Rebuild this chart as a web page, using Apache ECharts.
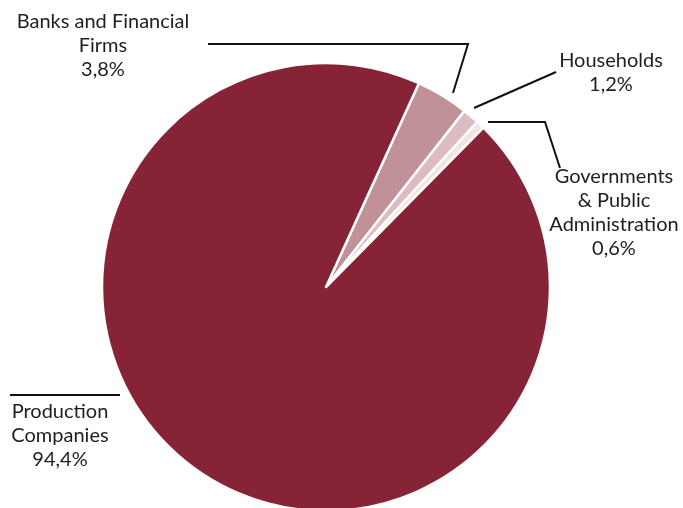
<!DOCTYPE html>
<html>
<head>
<meta charset="utf-8">
<style>
  html, body { margin: 0; padding: 0; background: #ffffff; }
  #chart { width: 683px; height: 508px; }
</style>
<script src="https://cdn.jsdelivr.net/npm/echarts@6/dist/echarts.min.js"></script>
</head>
<body>
<div id="chart"></div>
<script>
// Holders of the debt, share in percent
// (a zero-width non-joiner keeps Lato from fusing "ti" into a ligature)
const categories = [
  'Banks and Financial\nFirms',
  'Households',
  'Governments\n& Public\nAdministra\u200Cti\u200Con',
  'Production\nCompanies'
];
const shares = [3.8, 1.2, 0.6, 94.4];
const shareLabels = ['3,8%', '1,2%', '0,6%', '94,4%'];
const sliceColors = ['#c19198', '#dcbcc2', '#f0e3e5', '#862337'];

// label anchor and leader line for each category
const labelPlaces = [
  { x: 103, y: 46, line: [[453, 93], [468, 44], [208, 44]] },
  { x: 611, y: 73, line: [[474, 108], [515, 90], [556, 72]] },
  { x: 614, y: 213, line: [[488, 122], [545, 122], [560, 168]] },
  { x: 60, y: 436, line: [[120, 395], [65, 395], [10, 395]] }
];

const chart = echarts.init(document.getElementById('chart'), null, { renderer: 'canvas' });

chart.setOption({
  animation: false,
  backgroundColor: '#ffffff',
  series: [{
    type: 'pie',
    center: [326, 287],
    radius: 224,
    startAngle: 65.5,
    clockwise: true,
    avoidLabelOverlap: false,
    itemStyle: { borderColor: '#ffffff', borderWidth: 2.5 },
    label: {
      show: true,
      position: 'outside',
      color: '#1e1e1e',
      fontFamily: 'Lato',
      fontSize: 20,
      lineHeight: 24,
      align: 'center',
      formatter: p => p.name + '\n' + shareLabels[p.dataIndex]
    },
    labelLine: {
      show: true,
      lineStyle: { color: '#111111', width: 2 }
    },
    labelLayout: params => {
      const place = labelPlaces[params.dataIndex];
      return {
        x: place.x,
        y: place.y,
        align: 'center',
        verticalAlign: 'middle',
        labelLinePoints: place.line
      };
    },
    data: categories.map((name, i) => ({
      name: name,
      value: shares[i],
      itemStyle: { color: sliceColors[i] }
    }))
  }]
});
</script>
</body>
</html>
